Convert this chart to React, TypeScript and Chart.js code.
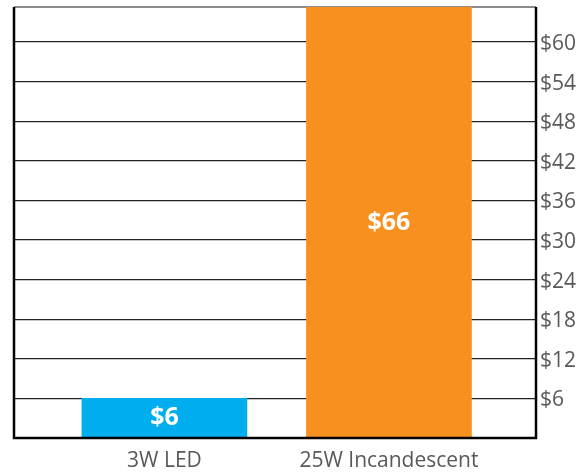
import React, { useEffect, useRef } from "react";
import { Chart, registerables } from "chart.js";

Chart.register(...registerables);

const categories = ["3W LED", "25W Incandescent"];
const costs = [6, 66];
const barColors = ["#00AEEF", "#F7901E"];
const yTicks = [6, 12, 18, 24, 30, 36, 42, 48, 54, 60];
const valueLabels = ["$6", "$66"];

const FONT = "'Open Sans', 'Noto Sans', sans-serif";

const frame = {
  id: "frame",
  beforeDatasetsDraw(chart: any) {
    const { ctx, chartArea: a } = chart;
    ctx.save();
    ctx.strokeStyle = "#666";
    ctx.lineWidth = 1.5;
    ctx.beginPath();
    ctx.moveTo(a.left, a.top);
    ctx.lineTo(a.right, a.top);
    ctx.stroke();
    ctx.restore();
  },
  afterDatasetsDraw(chart: any) {
    const { ctx, chartArea: a } = chart;
    ctx.save();
    ctx.strokeStyle = "#000";
    ctx.lineWidth = 2.5;
    ctx.beginPath();
    ctx.moveTo(a.left, a.top);
    ctx.lineTo(a.left, a.bottom);
    ctx.lineTo(a.right, a.bottom);
    ctx.lineTo(a.right, a.top);
    ctx.stroke();
    const meta = chart.getDatasetMeta(0);
    ctx.fillStyle = "#fff";
    ctx.font = `bold 25px ${FONT}`;
    ctx.textAlign = "center";
    ctx.textBaseline = "middle";
    meta.data.forEach((bar: any, i: number) => {
      const top = Math.max(bar.y, a.top);
      const yc = (top + bar.base) / 2;
      ctx.fillText(valueLabels[i], bar.x, yc);
    });
    ctx.restore();
  },
};

export default function App() {
  const ref = useRef<HTMLCanvasElement>(null);
  useEffect(() => {
    const chart = new Chart(ref.current!, {
      type: "bar",
      data: {
        datasets: [
          {
            data: costs.map((v, i) => ({ x: i, y: v })),
            backgroundColor: barColors,
            barThickness: 165,
            borderWidth: 0,
          },
        ],
      },
      plugins: [frame],
      options: {
        responsive: false,
        animation: false,
        layout: { padding: { left: 14, top: 7, right: 0, bottom: 0 } },
        plugins: { legend: { display: false }, tooltip: { enabled: false } },
        scales: {
          x: {
            type: "linear",
            min: -0.67,
            max: 1.655,
            offset: false,
            bounds: "data",
            grid: { display: false, drawTicks: false, offset: false },
            border: { display: false },
            afterBuildTicks: (s: any) => {
              s.ticks = categories.map((_, i) => ({ value: i }));
            },
            afterFit: (s: any) => {
              s.height = 34;
              s.paddingLeft = 0;
              s.paddingRight = 0;
            },
            ticks: {
              autoSkip: false,
              maxRotation: 0,
              padding: 10,
              color: "#58595B",
              font: { family: FONT, size: 21 },
              callback: (v: any) => categories[v] ?? "",
            },
          },
          y: {
            position: "right",
            min: 0,
            max: 65.3,
            grid: { color: "#222", lineWidth: 1.2, drawTicks: false },
            border: { display: false },
            afterBuildTicks: (s: any) => {
              s.ticks = yTicks.map((v) => ({ value: v }));
            },
            afterFit: (s: any) => {
              s.width = 51;
              s.paddingTop = 0;
              s.paddingBottom = 0;
            },
            ticks: {
              padding: 4,
              labelOffset: 2,
              color: "#58595B",
              font: { family: FONT, size: 21 },
              callback: (v: any) => "$" + v,
            },
          },
        },
      },
    } as any);
    return () => chart.destroy();
  }, []);
  return (
    <div style={{ position: "absolute", left: 0, top: 0, width: 587, height: 472 }}>
      <canvas ref={ref} width={587} height={472} />
    </div>
  );
}
